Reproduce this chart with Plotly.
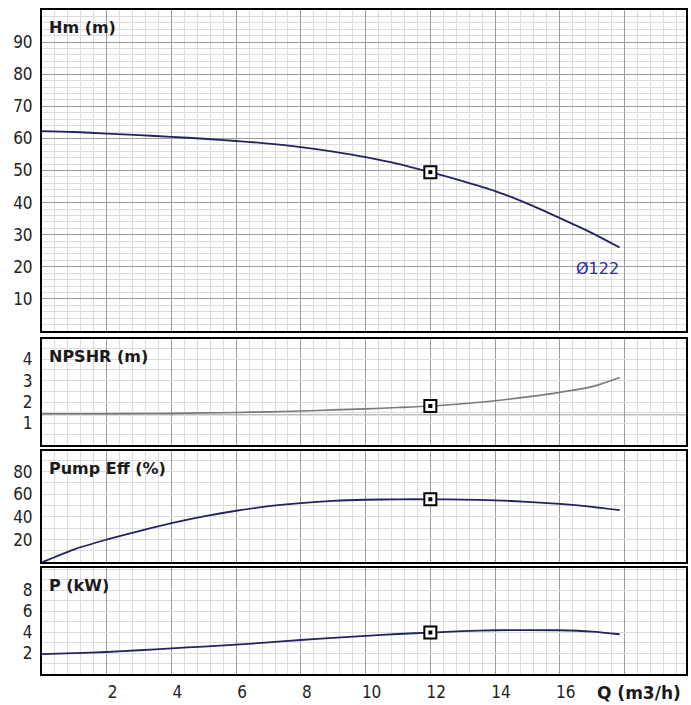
import plotly.graph_objects as go

# Pump performance curves vs. flow rate
q = [0, 1, 2, 3, 4, 5, 6, 7, 8, 9, 10, 11, 12, 13, 14, 15, 16, 17, 17.85]
head_m = [62.3, 62.0, 61.5, 61.0, 60.5, 59.9, 59.2, 58.4, 57.3, 55.9, 54.2, 52.1,
          49.5, 46.7, 43.6, 39.7, 35.2, 30.5, 26.0]
npshr_m = [1.45, 1.45, 1.45, 1.46, 1.47, 1.49, 1.51, 1.54, 1.58, 1.63, 1.68, 1.74,
           1.81, 1.92, 2.06, 2.24, 2.45, 2.72, 3.15]
eff_pct = [0, 11.5, 20, 27.5, 34.5, 40.5, 45.5, 49.5, 52.3, 54.2, 55.2, 55.6,
           55.6, 55.4, 54.7, 53.4, 51.5, 49, 46]
power_kw = [1.9, 2.0, 2.1, 2.27, 2.45, 2.62, 2.8, 3.02, 3.25, 3.45, 3.65, 3.82,
            3.96, 4.1, 4.18, 4.2, 4.18, 4.05, 3.8]

# Duty point
duty_q = 12
duty_head = 49.5
duty_npshr = 1.81
duty_eff = 55.6
duty_power = 3.96

impeller_label = "Ø122"
impeller_label_pos = (17.15, 19.6)

q_ticks = [2, 4, 6, 8, 10, 12, 14, 16, 18]
q_ticktext = ["2", "4", "6", "8", "10", "12", "14", "16", ""]
head_ticks = [10, 20, 30, 40, 50, 60, 70, 80, 90]
npshr_ticks = [1, 2, 3, 4]
eff_ticks = [20, 40, 60, 80]
power_ticks = [2, 4, 6, 8]

panel_titles = ["Hm (m)", "NPSHR (m)", "Pump Eff (%)", "P (kW)"]
x_title = "Q (m3/h)"

NAVY = "#23235f"
GRAY = "#7a7a7a"
MAJOR = "#9c9c9c"
MINOR = "#dcdcdc"
TICK_FONT = dict(family="Liberation Sans Narrow, DejaVu Sans Condensed, sans-serif",
                 size=17, color="#222222")
TITLE_FONT = dict(family="DejaVu Sans, Verdana, sans-serif", size=16, color="#1a1a1a")

fig = go.Figure()

series = [
    (head_m, duty_head, NAVY, 1.8),
    (npshr_m, duty_npshr, GRAY, 1.6),
    (eff_pct, duty_eff, NAVY, 1.8),
    (power_kw, duty_power, NAVY, 1.8),
]

for i, (vals, duty, col, lw) in enumerate(series, start=1):
    xa = "x" if i == 1 else f"x{i}"
    ya = "y" if i == 1 else f"y{i}"
    fig.add_trace(go.Scatter(x=q, y=vals, mode="lines", xaxis=xa, yaxis=ya,
                             line=dict(color=col, width=lw, shape="spline", smoothing=0.8),
                             hoverinfo="skip", showlegend=False))
    fig.add_trace(go.Scatter(x=[duty_q], y=[duty], mode="markers", xaxis=xa, yaxis=ya,
                             marker=dict(symbol="square", size=12, color="white",
                                         line=dict(color="black", width=2)),
                             hoverinfo="skip", showlegend=False))
    fig.add_trace(go.Scatter(x=[duty_q], y=[duty], mode="markers", xaxis=xa, yaxis=ya,
                             marker=dict(symbol="square", size=4, color="black",
                                         line=dict(width=0)),
                             hoverinfo="skip", showlegend=False))

# Panel geometry (paper fractions)
domains = [[0.5165, 1.0], [0.3453, 0.5045], [0.1682, 0.3363], [0.0, 0.1592]]
y_ranges = [[0, 100], [0, 4.95], [0, 98.5], [0, 10.1]]
y_ticks = [head_ticks, npshr_ticks, eff_ticks, power_ticks]
y_minor = [2, 0.5, 10, 1]
y_major_col = [MAJOR, MINOR, MINOR, MINOR]

frame = dict(showline=True, mirror=True, linecolor="black", linewidth=2,
             zeroline=False, ticks="", fixedrange=True)

layout = dict(width=691, height=705, autosize=False,
              margin=dict(l=42, r=3, t=10, b=29),
              paper_bgcolor="white", plot_bgcolor="white", showlegend=False)

for i in range(1, 5):
    xkey = "xaxis" if i == 1 else f"xaxis{i}"
    ykey = "yaxis" if i == 1 else f"yaxis{i}"
    yname = "y" if i == 1 else f"y{i}"
    xa = dict(frame, range=[0, 19.9], domain=[0, 1], anchor=yname,
              tickmode="array", tickvals=q_ticks, ticktext=q_ticktext,
              showgrid=True, gridcolor=MAJOR, gridwidth=1,
              minor=dict(tickmode="linear", tick0=0, dtick=0.4, showgrid=True,
                         gridcolor=MINOR, gridwidth=1),
              showticklabels=(i == 4), tickfont=TICK_FONT)
    if i > 1:
        xa["matches"] = "x"
    if i == 4:
        xa["ticklabelshift"] = 6
        xa["ticklabelstandoff"] = 2
    layout[xkey] = xa
    layout[ykey] = dict(frame, range=y_ranges[i - 1], domain=domains[i - 1],
                        anchor="x" if i == 1 else f"x{i}",
                        tickmode="array", tickvals=y_ticks[i - 1],
                        ticktext=[str(v) for v in y_ticks[i - 1]],
                        showgrid=True, gridcolor=y_major_col[i - 1], gridwidth=1,
                        minor=dict(tickmode="linear", tick0=0, dtick=y_minor[i - 1],
                                   showgrid=True, gridcolor=MINOR, gridwidth=1),
                        tickfont=TICK_FONT, ticklabelstandoff=4)

fig.update_layout(**layout)

# darker reference line in the NPSHR panel
fig.add_shape(type="line", xref="x2 domain", yref="y2", x0=0, x1=1, y0=1.4, y1=1.4,
              line=dict(color=MAJOR, width=1), layer="below")

annotations = []
for i, title in enumerate(panel_titles, start=1):
    xr = "x domain" if i == 1 else f"x{i} domain"
    yr = "y domain" if i == 1 else f"y{i} domain"
    annotations.append(dict(text=f"<b>{title}</b>", xref=xr, yref=yr, x=0, y=1,
                            xanchor="left", yanchor="top", xshift=5, yshift=-6,
                            showarrow=False, font=TITLE_FONT))

annotations.append(dict(text=f"<b>{x_title}</b>", xref="paper", yref="paper",
                        x=0.859, y=0, xanchor="left", yanchor="top", yshift=-7,
                        showarrow=False, font=dict(TITLE_FONT, size=17)))

annotations.append(dict(text=impeller_label, xref="x", yref="y",
                        x=impeller_label_pos[0], y=impeller_label_pos[1],
                        xanchor="center", yanchor="middle", showarrow=False,
                        font=dict(family="DejaVu Sans, Verdana, sans-serif",
                                  size=16, color="#2b2ba6")))

fig.update_layout(annotations=annotations)

fig.write_html("out.html")
